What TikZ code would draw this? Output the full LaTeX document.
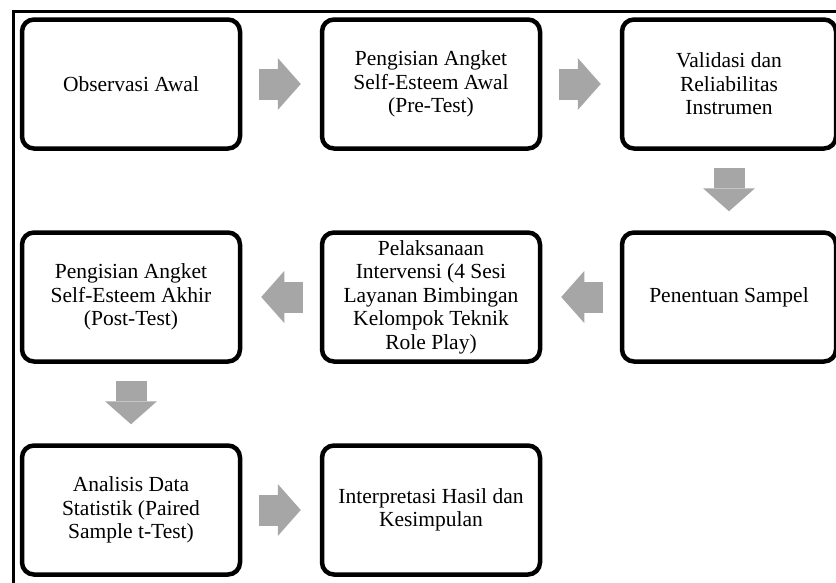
\documentclass[tikz,border=0pt]{standalone}
\usepackage{fontspec}
\setmainfont{Liberation Serif}
\usetikzlibrary{arrows.meta,shadows}
\definecolor{arrowgray}{RGB}{166,166,166}
\begin{document}
\begin{tikzpicture}[x=1pt, y=1pt, font=\fontsize{21.5}{23.5}\selectfont]
    \tikzstyle{box_style} = [draw=black, line width=4.5pt, rounded corners=12pt, fill=white, align=center, minimum width=218pt, minimum height=129pt, inner sep=0pt, drop shadow={shadow xshift=1pt, shadow yshift=-1.5pt, opacity=0.3}]
    \tikzstyle{arrow_style} = [draw=arrowgray, line width=31pt, -{Triangle[width=52pt, length=23pt, line width=0pt]}, shorten <=17pt, shorten >=19pt]
    \useasboundingbox (0,0) rectangle (836,-582);
    \draw[line width=3pt] (840,-11.5) -| (13.5,-590);

    \node[box_style] (s1) at (131,-84) {Observasi Awal};
    \node[box_style] (s2) at (431,-84) {Pengisian Angket\\Self-Esteem Awal\\(Pre-Test)};
    \node[box_style, minimum width=214pt] (s3) at (729,-84) {Validasi dan\\Reliabilitas\\Instrumen};
    \node[box_style, minimum width=214pt] (s4) at (729,-297) {Penentuan Sampel};
    \node[box_style] (s5) at (431,-297) {Pelaksanaan\\Intervensi (4 Sesi\\Layanan Bimbingan\\Kelompok Teknik\\Role Play)};
    \node[box_style] (s6) at (131,-297) {Pengisian Angket\\Self-Esteem Akhir\\(Post-Test)};
    \node[box_style] (s7) at (131,-510) {Analisis Data\\Statistik (Paired\\Sample t-Test)};
    \node[box_style] (s8) at (431,-510) {Interpretasi Hasil dan\\Kesimpulan};

    \draw[arrow_style] (s1) -- (s2);
    \draw[arrow_style] (s2) -- (s3);
    \draw[arrow_style] (s3) -- (s4);
    \draw[arrow_style] (s4) -- (s5);
    \draw[arrow_style] (s5) -- (s6);
    \draw[arrow_style] (s6) -- (s7);
    \draw[arrow_style] (s7) -- (s8);
\end{tikzpicture}
\end{document}
